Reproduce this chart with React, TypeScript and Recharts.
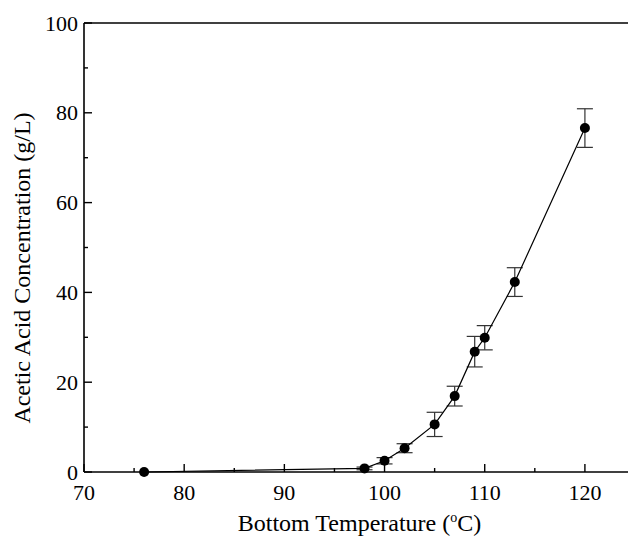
import { ComposedChart, Line, XAxis, YAxis, ErrorBar } from 'recharts'

// bottom temperature (°C) vs acetic acid concentration (g/L), with std error
const temps = [76, 98, 100, 102, 105, 107, 109, 110, 113, 120]
const acid = [0, 0.8, 2.5, 5.3, 10.6, 16.9, 26.8, 29.9, 42.3, 76.6]
const acidErr = [0, 0.3, 0.7, 1.0, 2.7, 2.2, 3.4, 2.7, 3.2, 4.3]

const xTicks = [70, 75, 80, 85, 90, 95, 100, 105, 110, 115, 120, 125]
const yTicks = [0, 10, 20, 30, 40, 50, 60, 70, 80, 90, 100]

const FONT = '"Liberation Serif", "Times New Roman", serif'

const data = temps.map((t, i) => ({ temp: t, acid: acid[i], err: acidErr[i] }))

// ticks point inward; only the major ones get a label
function BottomTick(props: any) {
  const { x, y, payload } = props
  const major = payload.value % 10 === 0
  return (
    <g>
      <line x1={x} y1={y} x2={x} y2={y - (major ? 8 : 4)} stroke="#000" strokeWidth={1.4} />
      {major && (
        <text x={x} y={y + 28} textAnchor="middle" fontSize={22} fontFamily={FONT} fill="#000">
          {payload.value}
        </text>
      )}
    </g>
  )
}

function LeftTick(props: any) {
  const { x, y, payload } = props
  const major = payload.value % 20 === 0
  return (
    <g>
      <line x1={x} y1={y} x2={x + (major ? 8 : 4)} y2={y} stroke="#000" strokeWidth={1.4} />
      {major && (
        <text x={x - 6} y={y + 7.5} textAnchor="end" fontSize={22} fontFamily={FONT} fill="#000">
          {payload.value}
        </text>
      )}
    </g>
  )
}

function RightTick(props: any) {
  const { x, y, payload } = props
  const major = payload.value % 20 === 0
  return <line x1={x} y1={y} x2={x - (major ? 8 : 4)} y2={y} stroke="#000" strokeWidth={1.4} />
}

function XTitle(props: any) {
  const { viewBox } = props
  const cx = viewBox.x + viewBox.width / 2
  return (
    <text x={cx} y={531} textAnchor="middle" fontSize={24} fontFamily={FONT} fill="#000">
      Bottom Temperature (<tspan dy={-9} fontSize={14}>o</tspan>
      <tspan dy={9}>C)</tspan>
    </text>
  )
}

function YTitle() {
  const cy = 268
  return (
    <text
      x={22}
      y={cy}
      transform={`rotate(-90, 22, ${cy})`}
      textAnchor="middle"
      dominantBaseline="central"
      fontSize={24}
      fontFamily={FONT}
      fill="#000"
    >
      Acetic Acid Concentration (g/L)
    </text>
  )
}

const axisLine = { stroke: '#000', strokeWidth: 1.6 }

export default function App() {
  return (
    <div style={{ position: 'absolute', left: 0, top: 0, width: 628, height: 546, overflow: 'hidden', background: '#fff' }}>
      <ComposedChart width={640} height={546} data={data} margin={{ top: 0, right: 0, bottom: 0, left: 0 }}>
        <XAxis
          dataKey="temp"
          type="number"
          domain={[70, 125]}
          ticks={xTicks}
          interval={0}
          height={74}
          tickSize={0}
          tickMargin={0}
          tickLine={false}
          axisLine={axisLine}
          tick={<BottomTick />}
          label={<XTitle />}
        />
        <XAxis
          xAxisId="top"
          orientation="top"
          type="number"
          domain={[70, 125]}
          height={23}
          tick={false}
          tickLine={false}
          axisLine={axisLine}
        />
        <YAxis
          type="number"
          domain={[0, 100]}
          ticks={yTicks}
          interval={0}
          width={84}
          tickSize={0}
          tickMargin={0}
          tickLine={false}
          axisLine={axisLine}
          tick={<LeftTick />}
          label={<YTitle />}
        />
        <YAxis
          yAxisId="right"
          orientation="right"
          type="number"
          domain={[0, 100]}
          ticks={yTicks}
          interval={0}
          width={5}
          tickSize={0}
          tickMargin={0}
          tickLine={false}
          axisLine={axisLine}
          tick={<RightTick />}
        />
        <Line
          dataKey="acid"
          type="linear"
          stroke="#000"
          strokeWidth={1.2}
          dot={{ r: 5, fill: '#000', stroke: '#000', strokeWidth: 0 }}
          activeDot={false}
          isAnimationActive={false}
        >
          <ErrorBar dataKey="err" direction="y" width={8} stroke="#333" strokeWidth={1.2} isAnimationActive={false} />
        </Line>
      </ComposedChart>
    </div>
  )
}
